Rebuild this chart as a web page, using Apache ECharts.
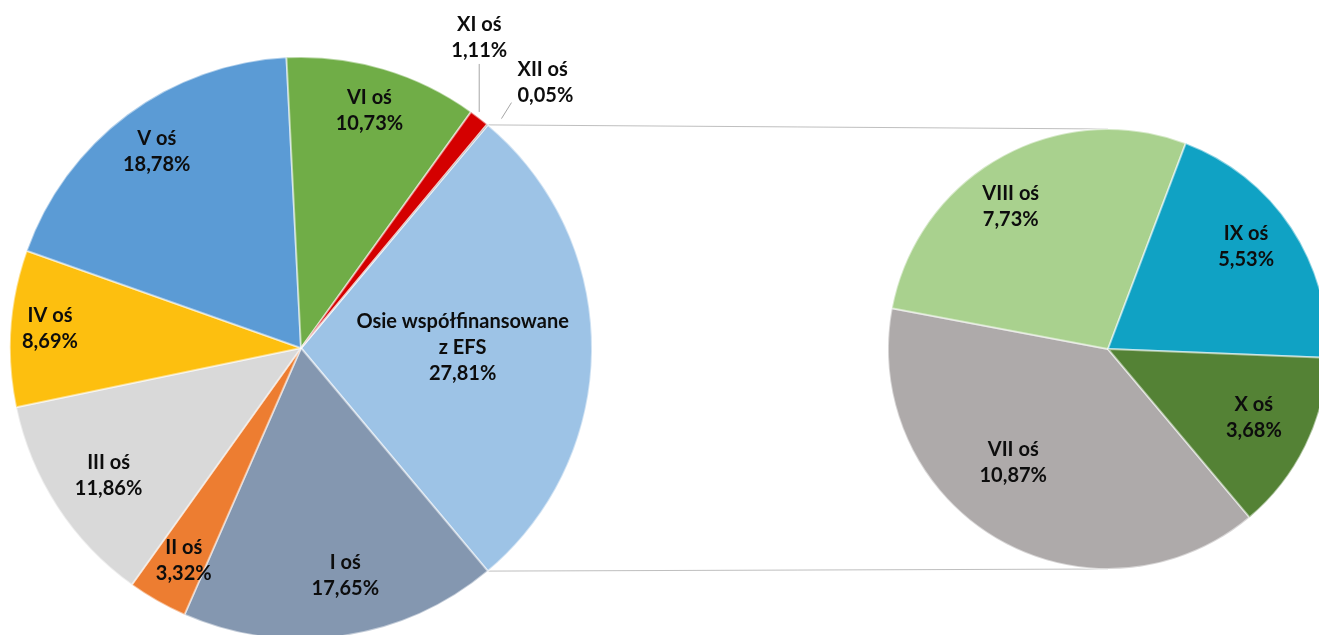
<!DOCTYPE html>
<html>
<head>
<meta charset="utf-8">
<script src="https://cdn.jsdelivr.net/npm/echarts@6/dist/echarts.min.js"></script>
<style>
  html, body { margin: 0; padding: 0; background: #fff; }
  #chart { width: 1319px; height: 635px; }
</style>
</head>
<body>
<div id="chart"></div>
<script>
// main pie, clockwise from the split-off slice
var mainNames = ['Osie współfinansowane\nz EFS', 'I oś', 'II oś', 'III oś', 'IV oś', 'V oś', 'VI oś', 'XI oś', 'XII oś'];
var mainValues = [27.81, 17.65, 3.32, 11.86, 8.69, 18.78, 10.73, 1.11, 0.05];
var mainColors = ['#9DC3E6', '#8497B0', '#ED7D31', '#D9D9D9', '#FDBF0F', '#5B9BD5', '#70AD47', '#D40000', '#7F7F7F'];

// secondary pie (breakdown of the EFS slice)
var subNames = ['VII oś', 'VIII oś', 'IX oś', 'X oś'];
var subValues = [10.87, 7.73, 5.53, 3.68];
var subColors = ['#AEAAAA', '#A9D18E', '#10A2C4', '#548235'];

var chart = echarts.init(document.getElementById('chart'), null, { renderer: 'canvas' });

var mainC = [301, 348], mainR = 291;
var subC = [1108, 349], subR = 220;
var mainStart = mainValues[0] / 100 * 360 / 2;   // EFS slice centred on 3 o'clock
var subStart = mainStart - 100;                  // VII starts where EFS ends

// small nudges so labels land where Excel's "best fit" put them
var mainNudge = [[-80, 0], [10, -12], [2, 2], [10, -4], [-10, -3], [0, -3], [0, -6]];
var subNudge = [[-10, -32], [-15, 4], [-2, -10], [-5, -5]];

function pct(v) {
  return v.toFixed(2).replace('.', ',') + '%';
}
var fmt = function (p) { return p.name + '\n' + pct(p.value); };

var labelStyle = {
  fontFamily: 'Lato',
  fontWeight: 'bold',
  fontSize: 20,
  lineHeight: 26,
  color: '#0d0d0d'
};

function items(names, values, colors) {
  return names.map(function (n, i) {
    return {
      name: n,
      value: values[i],
      itemStyle: { color: colors[i] }
    };
  });
}

function labelItems(names, values, nudge) {
  return names.map(function (n, i) {
    var d = { name: n, value: values[i] };
    if (nudge[i]) d.label = { offset: nudge[i] };
    else d.label = { position: 'outside' };
    return d;
  });
}

var rad = Math.PI / 180;
var a1 = mainStart * rad, a2 = (mainStart - mainValues[0] * 3.6) * rad;

var option = {
  backgroundColor: '#fff',
  animation: false,
  graphic: [
    { type: 'line', z: 0, shape: { x1: mainC[0] + mainR * Math.cos(a1), y1: mainC[1] - mainR * Math.sin(a1), x2: subC[0], y2: subC[1] - subR }, style: { stroke: '#BFBFBF', lineWidth: 1 } },
    { type: 'line', z: 0, shape: { x1: mainC[0] + mainR * Math.cos(a2), y1: mainC[1] - mainR * Math.sin(a2), x2: subC[0], y2: subC[1] + subR }, style: { stroke: '#BFBFBF', lineWidth: 1 } }
  ],
  series: [
    {
      type: 'pie',
      center: mainC,
      radius: [0, mainR],
      startAngle: mainStart,
      itemStyle: { borderColor: 'rgba(255,255,255,0.5)', borderWidth: 2 },
      label: { show: false },
      emphasis: { disabled: true },
      data: items(mainNames, mainValues, mainColors)
    },
    {
      // transparent ring carrying the labels
      type: 'pie',
      center: mainC,
      radius: [mainR * 0.64, mainR],
      startAngle: mainStart,
      silent: true,
      avoidLabelOverlap: false,
      minShowLabelAngle: 0,
      itemStyle: { color: 'transparent', borderWidth: 0 },
      label: Object.assign({ show: true, position: 'inside', formatter: fmt }, labelStyle),
      labelLine: { show: true, length: 10, length2: 0, lineStyle: { color: '#A6A6A6', width: 1 } },
      labelLayout: function (p) {
        var pts = p.labelLinePoints;
        if (!pts) return {};
        var e = pts[0];
        if (p.dataIndex === 7) {
          // XI: short vertical leader, label centred above it
          return {
            x: e[0], y: e[1] - 54, align: 'center', verticalAlign: 'bottom',
            labelLinePoints: [[e[0], e[1] - 6], [e[0], e[1] - 54], [e[0], e[1] - 54]]
          };
        }
        // XII: short slanted leader, label to the right
        return {
          x: e[0] + 30, y: e[1] - 16, align: 'left', verticalAlign: 'bottom',
          labelLinePoints: [[e[0] + 14, e[1] - 6], [e[0] + 24, e[1] - 22], [e[0] + 24, e[1] - 22]]
        };
      },
      emphasis: { disabled: true },
      data: labelItems(mainNames, mainValues, mainNudge)
    },
    {
      type: 'pie',
      center: subC,
      radius: [0, subR],
      startAngle: subStart,
      itemStyle: { borderColor: 'rgba(255,255,255,0.5)', borderWidth: 2 },
      label: { show: false },
      emphasis: { disabled: true },
      data: items(subNames, subValues, subColors)
    },
    {
      type: 'pie',
      center: subC,
      radius: [subR * 0.5, subR],
      startAngle: subStart,
      silent: true,
      itemStyle: { color: 'transparent', borderWidth: 0 },
      label: Object.assign({ show: true, position: 'inside', formatter: fmt }, labelStyle),
      labelLine: { show: false },
      emphasis: { disabled: true },
      data: labelItems(subNames, subValues, subNudge)
    }
  ]
};

chart.setOption(option);
</script>
</body>
</html>
